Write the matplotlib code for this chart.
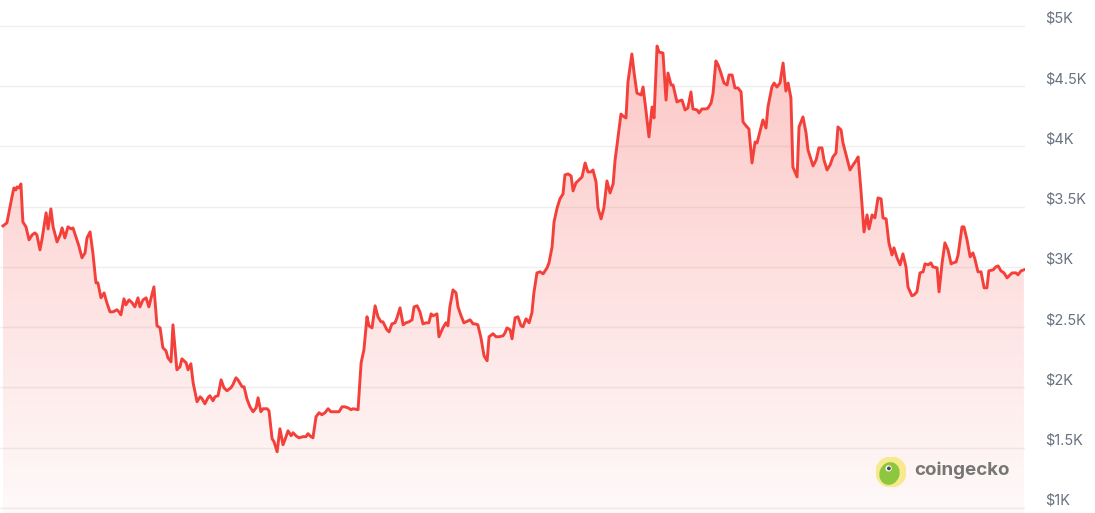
import matplotlib.pyplot as plt
import matplotlib.transforms as mtransforms
from matplotlib.patches import Circle, Ellipse
import numpy as np

# day offsets (1 year window) and price in USD
days = [0.0, 1.4, 2.1, 3.2, 3.9, 4.6, 5.0, 5.7, 6.4, 7.1, 8.2, 9.3, 10.4, 11.4, 12.1, 13.2, 13.9,
        15.4, 16.1, 17.1, 17.9, 19.3, 20.4, 21.1, 22.1, 23.2, 24.3, 25.0, 26.4, 27.1, 28.2, 29.3,
        30.0, 31.1, 32.1, 33.2, 33.9, 35.0, 36.1, 37.1, 38.2, 39.3, 40.7, 41.4, 42.1, 43.2, 43.9,
        45.0, 46.1, 47.1, 48.2, 48.9, 50.0, 51.1, 52.1, 53.2, 53.9, 55.0, 56.1, 57.1, 58.2, 58.9,
        60.0, 60.7, 62.1, 63.2, 63.9, 65.4, 66.1, 67.1, 67.9, 69.3, 70.4, 71.1, 72.1, 73.2, 73.9,
        75.0, 75.7, 76.8, 77.9, 78.9, 80.0, 81.4, 82.1, 83.2, 83.9, 85.4, 86.1, 87.1, 88.2, 89.3,
        90.4, 91.1, 92.1, 92.9, 94.3, 95.0, 96.1, 96.8, 97.9, 98.9, 100.0, 100.7, 101.8, 102.9,
        103.6, 104.6, 105.7, 107.1, 108.2, 108.9, 110.0, 110.7, 111.8, 112.9, 113.9, 115.0, 116.1,
        117.1, 117.9, 119.3, 120.0, 121.1, 122.1, 123.2, 124.3, 125.0, 126.8, 127.9, 128.9, 130.0,
        130.7, 131.8, 132.9, 133.9, 135.0, 135.7, 137.1, 137.9, 138.9, 140.0, 140.7, 141.8, 142.9,
        143.9, 145.0, 146.1, 146.8, 147.9, 148.9, 150.0, 151.1, 152.1, 152.9, 153.6, 155.0, 155.7,
        157.1, 158.2, 158.9, 159.6, 160.7, 161.8, 162.5, 163.6, 164.6, 166.1, 166.8, 167.9, 168.6,
        169.6, 170.7, 171.8, 172.9, 173.6, 175.0, 176.1, 177.1, 178.6, 179.3, 180.0, 181.1, 181.8,
        182.9, 183.9, 185.0, 185.7, 186.8, 187.9, 188.9, 189.6, 190.7, 191.8, 192.9, 194.3, 195.0,
        196.1, 196.8, 197.9, 198.9, 200.0, 200.7, 201.8, 202.9, 203.6, 204.6, 206.1, 206.8, 207.9,
        208.9, 210.0, 210.7, 211.8, 212.5, 213.6, 214.6, 215.7, 216.8, 217.9, 218.6, 219.3, 220.7,
        221.4, 222.5, 223.2, 224.6, 225.4, 226.4, 227.9, 228.6, 229.6, 230.7, 231.8, 232.5, 233.6,
        234.3, 235.7, 236.8, 237.5, 238.6, 239.3, 240.7, 241.4, 242.5, 243.6, 244.6, 245.7, 246.4,
        247.9, 248.6, 249.6, 251.1, 251.8, 252.9, 253.6, 254.6, 255.4, 256.4, 257.5, 258.6, 259.3,
        260.4, 261.4, 262.5, 263.6, 264.3, 265.7, 266.4, 267.5, 268.6, 269.3, 270.4, 271.4, 272.5,
        273.2, 274.6, 275.4, 276.4, 277.5, 278.6, 279.6, 280.4, 281.4, 282.1, 283.6, 284.3, 285.7,
        286.8, 287.5, 288.6, 289.3, 290.4, 291.4, 292.5, 293.2, 294.3, 295.4, 296.4, 297.5, 298.2,
        299.3, 300.0, 301.4, 302.5, 303.6, 304.6, 305.4, 306.4, 307.5, 308.6, 309.3, 310.4, 311.4,
        312.5, 313.6, 314.3, 315.4, 316.4, 317.5, 318.2, 319.3, 320.4, 321.4, 322.5, 323.2, 324.6,
        325.4, 326.4, 327.5, 328.6, 329.3, 330.4, 331.4, 332.1, 333.6, 334.3, 335.4, 336.4, 337.5,
        338.6, 339.3, 340.4, 341.1, 342.5, 343.2, 344.3, 345.4, 346.4, 347.1, 348.2, 349.3, 350.4,
        351.4, 352.1, 353.6, 354.6, 355.4, 356.4, 357.5, 358.6, 359.3, 360.4, 361.8, 362.5, 363.6,
        364.6]

prices = [3340, 3365, 3448, 3580, 3655, 3638, 3663, 3655, 3688, 3373, 3332, 3224, 3265, 3282, 3265,
          3141, 3224, 3448, 3315, 3481, 3332, 3207, 3265, 3323, 3240, 3332, 3315, 3323, 3224, 3174,
          3075, 3116, 3240, 3290, 3116, 2867, 2867, 2743, 2784, 2702, 2627, 2627, 2644, 2627, 2602,
          2735, 2685, 2726, 2702, 2668, 2743, 2668, 2726, 2743, 2668, 2768, 2834, 2511, 2494, 2329,
          2304, 2246, 2212, 2519, 2146, 2171, 2237, 2204, 2146, 2196, 2038, 1881, 1922, 1906, 1864,
          1914, 1931, 1889, 1922, 1931, 2063, 1997, 1972, 1997, 2022, 2080, 2063, 2005, 2005, 1906,
          1839, 1798, 1831, 1914, 1798, 1823, 1823, 1806, 1574, 1549, 1466, 1657, 1524, 1566, 1640,
          1599, 1624, 1599, 1582, 1591, 1591, 1616, 1591, 1582, 1757, 1790, 1773, 1790, 1823, 1798,
          1798, 1798, 1798, 1839, 1839, 1831, 1815, 1823, 1815, 2204, 2312, 2586, 2511, 2494, 2677,
          2586, 2544, 2544, 2478, 2461, 2527, 2536, 2577, 2660, 2519, 2536, 2544, 2561, 2668, 2677,
          2627, 2527, 2536, 2536, 2610, 2594, 2610, 2420, 2494, 2536, 2511, 2668, 2809, 2784, 2668,
          2594, 2536, 2552, 2561, 2527, 2527, 2519, 2411, 2262, 2221, 2420, 2445, 2420, 2420, 2428,
          2453, 2494, 2478, 2403, 2577, 2586, 2511, 2503, 2569, 2536, 2619, 2784, 2950, 2959, 2942,
          2992, 3033, 3166, 3373, 3489, 3564, 3605, 3763, 3771, 3754, 3630, 3696, 3730, 3746, 3862,
          3788, 3788, 3804, 3705, 3489, 3398, 3489, 3713, 3613, 3688, 3887, 4011, 4268, 4252, 4235,
          4534, 4766, 4608, 4442, 4426, 4492, 4302, 4078, 4326, 4235, 4832, 4782, 4774, 4384, 4608,
          4509, 4509, 4368, 4376, 4384, 4302, 4318, 4451, 4310, 4302, 4277, 4310, 4310, 4318, 4360,
          4442, 4708, 4675, 4608, 4525, 4509, 4592, 4592, 4484, 4484, 4451, 4202, 4161, 4144, 3862,
          4036, 4028, 4127, 4219, 4152, 4326, 4492, 4525, 4492, 4525, 4691, 4459, 4525, 4401, 3829,
          3746, 4161, 4244, 4111, 3970, 3887, 3837, 3887, 3987, 3987, 3887, 3804, 3846, 3912, 3945,
          4161, 4136, 4028, 3904, 3804, 3846, 3879, 3912, 3638, 3290, 3431, 3315, 3431, 3406, 3572,
          3564, 3406, 3398, 3199, 3099, 3158, 3075, 3017, 3108, 3000, 2834, 2760, 2768, 2793, 2950,
          2959, 3025, 3017, 3033, 3000, 2992, 2793, 3033, 3199, 3141, 3025, 3033, 3041, 3099, 3332,
          3332, 3224, 3083, 3116, 3066, 2959, 2959, 2826, 2826, 2967, 2975, 3000, 3008, 2967, 2950,
          2909, 2925, 2950, 2950, 2934, 2967, 2975]

tick_vals = [1000, 1500, 2000, 2500, 3000, 3500, 4000, 4500, 5000]
tick_labels = ['$1K', '$1.5K', '$2K', '$2.5K', '$3K', '$3.5K', '$4K', '$4.5K', '$5K']

plt.rcParams['font.family'] = ['Inter', 'DejaVu Sans']

W, H = 1095, 513
fig = plt.figure(figsize=(W / 100, H / 100), dpi=100)
ax = fig.add_axes([0, 0, 1025 / W, 1])
ymin, ymax = 958, 5214

for v in tick_vals:
    ax.axhline(v, color='#efefef', lw=1, zorder=0)

# gradient fill under the line
poly = ax.fill_between(days, prices, ymin, facecolor='none', edgecolor='none')
grad = np.linspace(0, 1, 256).reshape(-1, 1)
rgba = np.zeros((256, 1, 4))
rgba[..., 0] = 0.96
rgba[..., 1] = 0.25
rgba[..., 2] = 0.23
rgba[..., 3] = (0.03 + 0.26 * grad)
im = ax.imshow(rgba, extent=[days[0], days[-1], ymin, max(prices)], origin='lower',
               aspect='auto', zorder=2, interpolation='bilinear')
im.set_clip_path(poly.get_paths()[0], transform=ax.transData)

ax.plot(days, prices, color='#f4403a', lw=2.1, solid_joinstyle='round', zorder=3)

ax.set_xlim(-1.07, 365.0)
ax.set_ylim(ymin, ymax)
ax.set_axis_off()

# right side price labels, sitting a little above each gridline
off = mtransforms.ScaledTranslation(0, 7 / 100, fig.dpi_scale_trans)
trans = mtransforms.blended_transform_factory(ax.transAxes, ax.transData) + off
for v, lab in zip(tick_vals, tick_labels):
    ax.text(1045 / 1025, v, lab, transform=trans, ha='left', va='center',
            fontsize=10.5, color='#687280', clip_on=False)

# coingecko watermark
lax = fig.add_axes([876 / W, 1 - 487 / H, 30 / W, 30 / H])
lax.set_xlim(0, 1)
lax.set_ylim(0, 1)
lax.set_axis_off()
lax.add_patch(Circle((0.5, 0.5), 0.5, color='#f7e98e'))
lax.add_patch(Ellipse((0.45, 0.45), 0.62, 0.72, angle=-20, color='#8dc63f'))
lax.add_patch(Circle((0.42, 0.62), 0.08, color='white'))
lax.add_patch(Circle((0.43, 0.62), 0.04, color='#4a4a4a'))
fig.text(914 / W, 1 - 470 / H, 'coingecko', ha='left', va='center', fontsize=13.5,
         fontweight='bold', color='#767676')

fig.savefig('out.png', dpi=100)
